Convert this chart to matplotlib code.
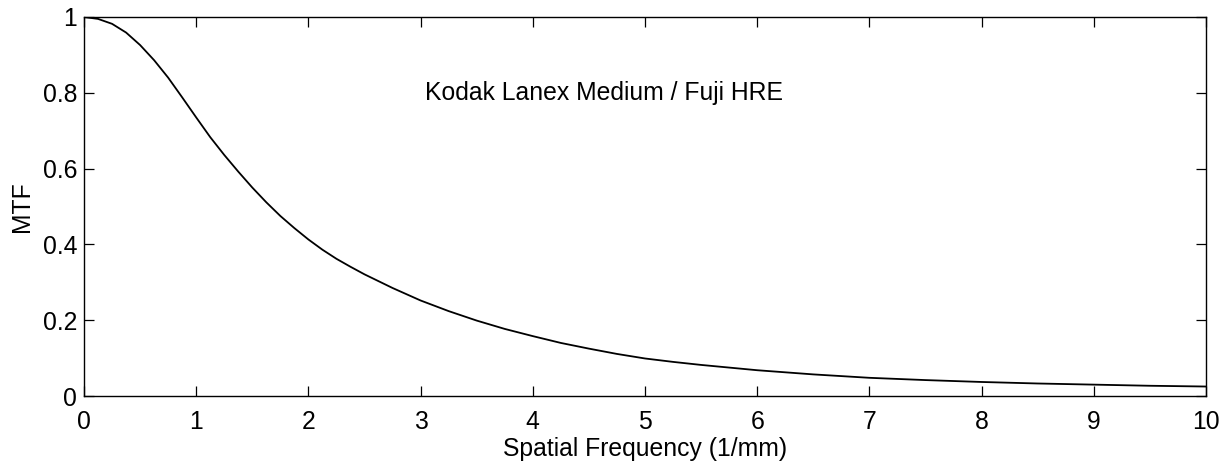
import matplotlib
matplotlib.use("Agg")
import matplotlib.pyplot as plt

# MTF of the Kodak Lanex Medium screen / Fuji HRE film combination
freq = [0.0, 0.125, 0.25, 0.375, 0.5, 0.625, 0.75, 0.875, 1.0, 1.125, 1.25,
        1.375, 1.5, 1.625, 1.75, 1.875, 2.0, 2.125, 2.25, 2.375, 2.5,
        2.75, 3.0, 3.25, 3.5, 3.75, 4.0, 4.25, 4.5, 4.75, 5.0, 5.25, 5.5,
        5.75, 6.0, 6.5, 7.0, 7.5, 8.0, 8.5, 9.0, 9.5, 10.0]
mtf = [1.0, 0.995, 0.982, 0.959, 0.926, 0.886, 0.840, 0.788, 0.735, 0.683,
       0.636, 0.592, 0.550, 0.511, 0.475, 0.443, 0.413, 0.386, 0.362,
       0.341, 0.321, 0.285, 0.252, 0.224, 0.199, 0.177, 0.158, 0.140,
       0.125, 0.111, 0.099, 0.090, 0.082, 0.075, 0.068, 0.057, 0.048,
       0.042, 0.037, 0.033, 0.030, 0.027, 0.025]

xticks = [0, 1, 2, 3, 4, 5, 6, 7, 8, 9, 10]
yticks = [0, 0.2, 0.4, 0.6, 0.8, 1.0]
ytick_labels = ["0", "0.2", "0.4", "0.6", "0.8", "1"]

plt.rcParams["font.family"] = ["Liberation Sans", "DejaVu Sans"]
FS = 17.8
plt.rcParams["font.size"] = FS

fig = plt.figure(figsize=(12.31, 4.63), dpi=100)
ax = fig.add_axes([84 / 1231, 67 / 463, 1122 / 1231, 379 / 463])

ax.plot(freq, mtf, color="black", linewidth=1.3, solid_joinstyle="round")

ax.set_xlim(0, 10)
ax.set_ylim(0, 1)
ax.set_xticks(xticks)
ax.set_xticklabels([str(t) for t in xticks])
ax.set_yticks(yticks)
ax.set_yticklabels(ytick_labels)

ax.tick_params(direction="in", length=7.5, width=0.9, top=True, right=True,
               labelsize=FS, colors="black")
ax.tick_params(axis="x", pad=10)
ax.tick_params(axis="y", pad=5)
for s in ax.spines.values():
    s.set_linewidth(1.0)
    s.set_color("black")

ax.set_xlabel("Spatial Frequency (1/mm)", fontsize=FS, labelpad=2)
ax.set_ylabel("MTF", fontsize=FS, labelpad=6)

ax.text(3.04, 0.80, "Kodak Lanex Medium / Fuji HRE", fontsize=FS,
        ha="left", va="center")

fig.savefig("out.png", dpi=100)
